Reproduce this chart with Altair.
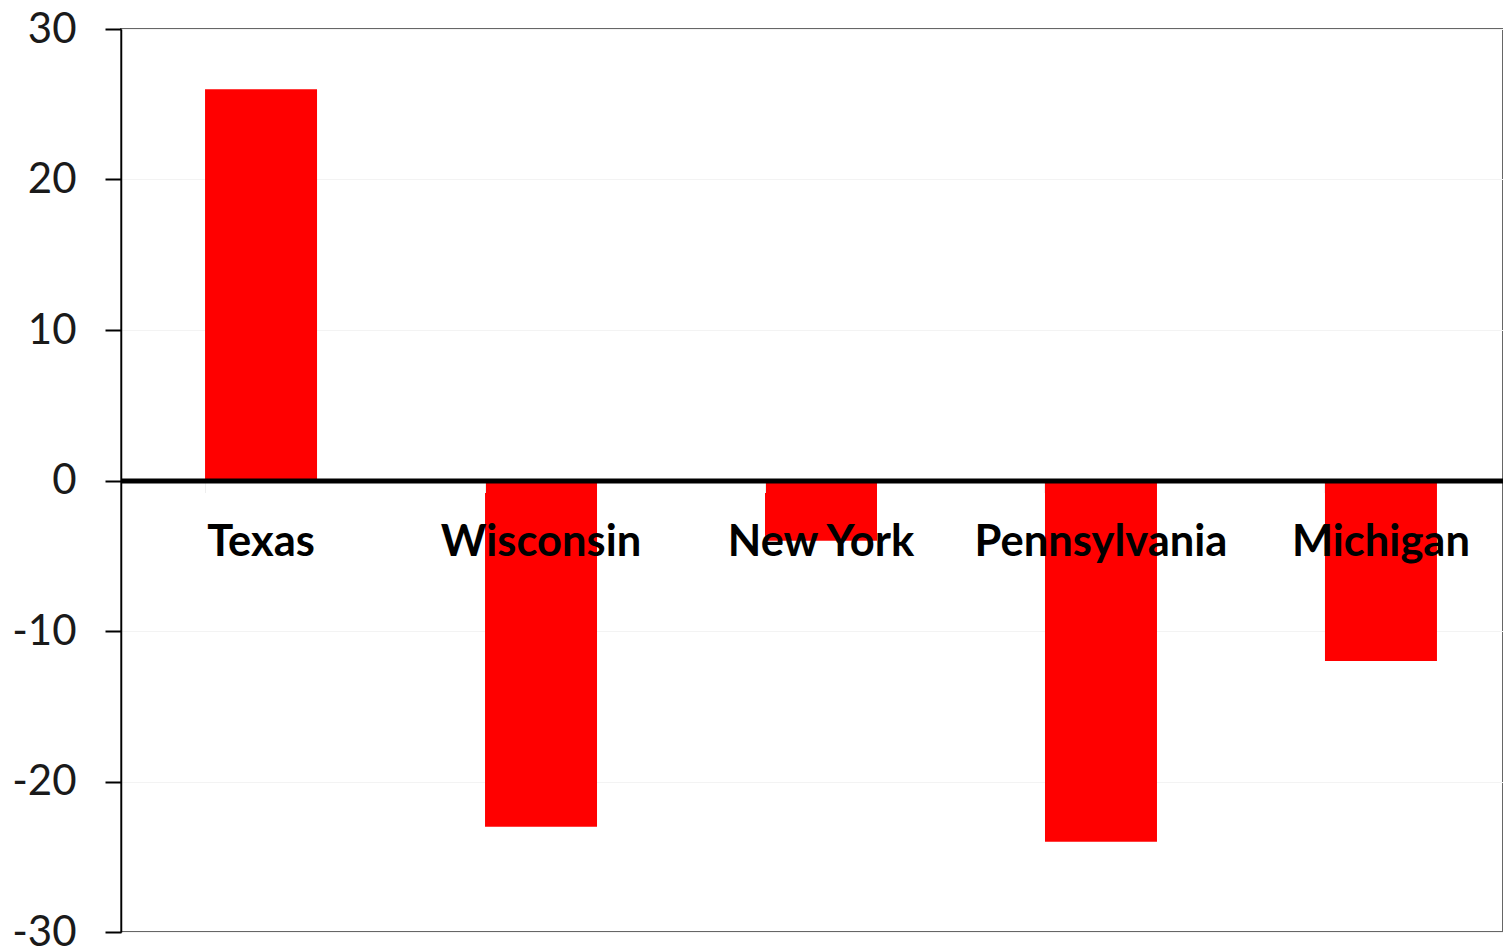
import altair as alt
import pandas as pd

states = ["Texas", "Wisconsin", "New York", "Pennsylvania", "Michigan"]
values = [26, -23, -4, -24, -12]
y_ticks = [-30, -20, -10, 0, 10, 20, 30]

df = pd.DataFrame({"state": states, "value": values})

PLOT_W = 1382
PLOT_H = 903

bars = alt.Chart(df).mark_bar(color="#ff0000").encode(
    x=alt.X(
        "state:N",
        sort=states,
        scale=alt.Scale(paddingInner=0.6, paddingOuter=0.268, align=0.56),
        axis=alt.Axis(
            title=None,
            orient="bottom",
            offset=-451.5,
            domainColor="#000000",
            domainWidth=5,
            ticks=True,
            bandPosition=0,
            tickColor="#eeeeee",
            tickSize=12,
            tickWidth=1,
            labelFont="Lato",
            labelFontWeight="bold",
            labelFontSize=43.5,
            labelColor="#000000",
            labelAngle=0,
            labelBaseline="alphabetic",
            labelPadding=63,
            labelLimit=0,
            labelOverlap=False,
            zindex=1,
        ),
    ),
    y=alt.Y(
        "value:Q",
        scale=alt.Scale(domain=[-30, 30], nice=False, zero=False),
        axis=alt.Axis(
            title=None,
            values=y_ticks,
            labelExpr="'' + datum.value",
            domainColor="#000000",
            domainWidth=1.5,
            tickColor="#000000",
            tickSize=16,
            tickWidth=2,
            labelFont="Lato",
            labelFontSize=42,
            labelColor="#1a1a1a",
            labelPadding=29,
            grid=True,
            gridColor="#f3f3f3",
            gridWidth=1,
            zindex=0,
        ),
    ),
)

chart = bars.properties(
    width=PLOT_W,
    height=PLOT_H,
    autosize=alt.AutoSizeParams(type="none"),
    padding={"left": 113, "top": 21, "right": 0, "bottom": 17},
    background="#ffffff",
).configure_view(stroke="#666666", strokeWidth=2)

chart.save("out.html", embed_options={"renderer": "svg", "actions": False})
